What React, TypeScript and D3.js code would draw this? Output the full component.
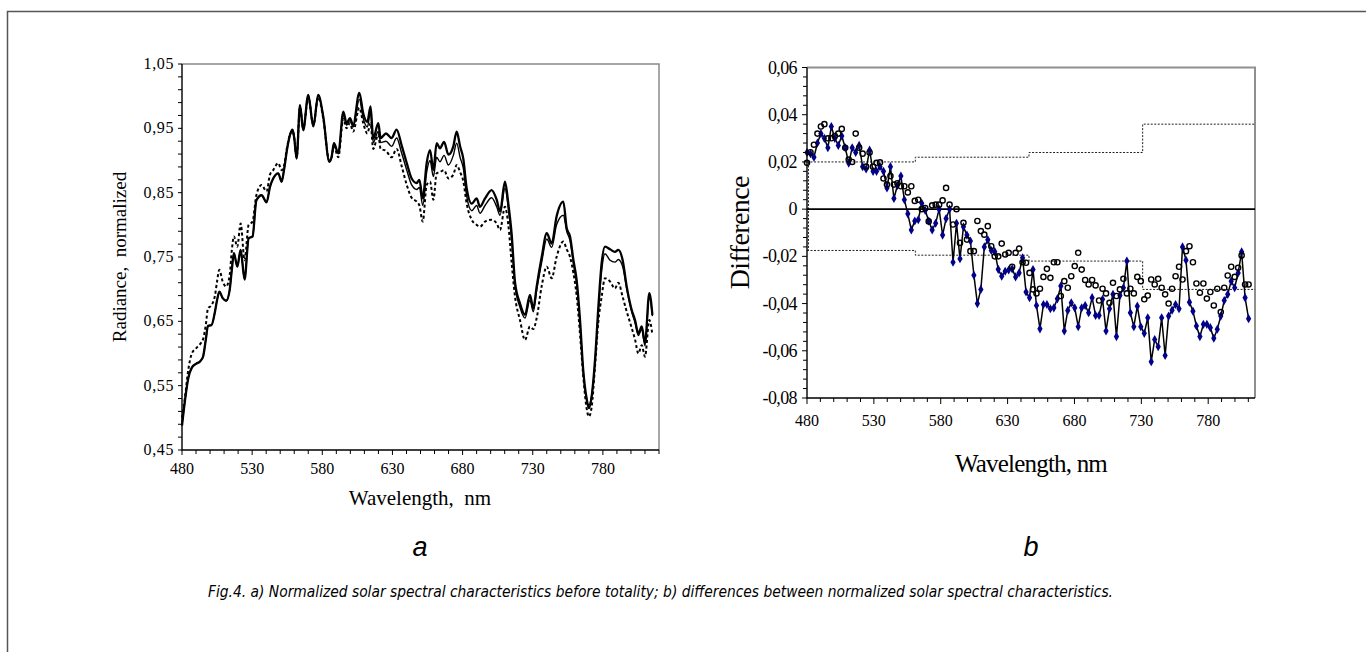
import { useEffect, useRef } from 'react'
import * as d3 from 'd3'

const WIDTH = 1366
const HEIGHT = 652
const SERIF = '"Liberation Serif", "Times New Roman", serif'
const SANS = '"DejaVu Sans", Verdana, sans-serif'

// panel a: normalized radiance, three spectra
const A_WL = [480, 482, 484.5, 487, 490, 493, 495, 497, 498.5, 501, 503.5, 505, 506.6, 509, 511.5, 514, 515.5, 517, 519.4, 521.8, 524.6, 527.5, 530.3, 533, 536.7, 540.3, 542.7, 545, 548.6, 551, 552.7, 555, 557, 558.8, 560, 561.7, 564.1, 566.4, 570, 573.6, 577.1, 580.7, 585, 586.6, 588.3, 591.4, 595, 597.3, 599.7, 602, 606.4, 609.2, 612.1, 614.4, 616.3, 619.9, 621.6, 625.4, 629.4, 633, 636.5, 640.2, 643.7, 647.3, 649.2, 651.6, 654.4, 656.8, 659.2, 661.5, 663.9, 666.8, 669.9, 673.4, 675.8, 678.2, 680.5, 682.9, 686.5, 690, 692.4, 696, 700.7, 704.3, 706.7, 710.2, 712.6, 715, 717.4, 720.9, 724.5, 728, 730.4, 732.8, 736.4, 740, 743.5, 747, 751.8, 754.2, 756.6, 759, 761.3, 763.7, 766, 768.4, 770, 772, 774.4, 776.8, 779.1, 781.5, 785.1, 788.6, 791, 794.1, 797, 800.5, 802.9, 805.3, 807.7, 810, 813.1, 815.3]
const A_THICK = [0.488, 0.525, 0.562, 0.578, 0.584, 0.588, 0.595, 0.622, 0.643, 0.644, 0.665, 0.683, 0.696, 0.686, 0.682, 0.699, 0.73, 0.756, 0.735, 0.761, 0.715, 0.779, 0.782, 0.838, 0.846, 0.835, 0.859, 0.872, 0.88, 0.867, 0.885, 0.919, 0.94, 0.948, 0.935, 0.903, 0.986, 0.947, 1.002, 0.953, 1.002, 0.968, 0.898, 0.905, 0.927, 0.911, 0.976, 0.958, 0.966, 0.955, 1.005, 0.973, 0.96, 0.984, 0.934, 0.958, 0.935, 0.942, 0.935, 0.948, 0.924, 0.896, 0.872, 0.865, 0.87, 0.841, 0.896, 0.916, 0.885, 0.927, 0.919, 0.929, 0.909, 0.922, 0.945, 0.922, 0.903, 0.857, 0.833, 0.841, 0.828, 0.841, 0.854, 0.839, 0.821, 0.867, 0.833, 0.785, 0.71, 0.678, 0.66, 0.691, 0.67, 0.704, 0.75, 0.787, 0.771, 0.813, 0.836, 0.795, 0.782, 0.745, 0.714, 0.652, 0.574, 0.53, 0.515, 0.533, 0.59, 0.673, 0.74, 0.766, 0.762, 0.758, 0.761, 0.745, 0.704, 0.668, 0.652, 0.631, 0.642, 0.616, 0.694, 0.66]
const A_THIN = [0.49, 0.525, 0.562, 0.578, 0.584, 0.588, 0.595, 0.622, 0.643, 0.644, 0.665, 0.683, 0.696, 0.686, 0.682, 0.699, 0.73, 0.756, 0.735, 0.761, 0.715, 0.779, 0.782, 0.838, 0.846, 0.835, 0.859, 0.872, 0.88, 0.867, 0.885, 0.919, 0.94, 0.948, 0.935, 0.903, 0.986, 0.947, 1.002, 0.953, 1.002, 0.968, 0.898, 0.905, 0.927, 0.911, 0.972, 0.955, 0.962, 0.952, 0.995, 0.965, 0.952, 0.975, 0.928, 0.945, 0.928, 0.93, 0.922, 0.935, 0.912, 0.885, 0.862, 0.855, 0.858, 0.83, 0.882, 0.9, 0.875, 0.905, 0.898, 0.908, 0.893, 0.908, 0.927, 0.905, 0.888, 0.845, 0.822, 0.83, 0.818, 0.83, 0.842, 0.828, 0.815, 0.857, 0.825, 0.775, 0.705, 0.672, 0.655, 0.683, 0.665, 0.698, 0.742, 0.778, 0.765, 0.8, 0.815, 0.79, 0.775, 0.74, 0.708, 0.648, 0.57, 0.528, 0.52, 0.535, 0.585, 0.665, 0.728, 0.755, 0.745, 0.742, 0.746, 0.735, 0.7, 0.665, 0.648, 0.628, 0.638, 0.612, 0.688, 0.658]
const A_DASH = [0.5, 0.53, 0.575, 0.6, 0.608, 0.615, 0.622, 0.645, 0.67, 0.675, 0.69, 0.712, 0.73, 0.712, 0.704, 0.722, 0.76, 0.782, 0.766, 0.802, 0.745, 0.8, 0.805, 0.846, 0.862, 0.852, 0.878, 0.885, 0.896, 0.885, 0.892, 0.922, 0.94, 0.946, 0.935, 0.905, 0.983, 0.95, 0.998, 0.955, 0.998, 0.965, 0.9, 0.905, 0.922, 0.905, 0.965, 0.95, 0.958, 0.945, 0.982, 0.958, 0.942, 0.958, 0.918, 0.94, 0.918, 0.915, 0.905, 0.918, 0.892, 0.862, 0.842, 0.836, 0.83, 0.805, 0.862, 0.867, 0.839, 0.88, 0.882, 0.885, 0.872, 0.878, 0.893, 0.882, 0.868, 0.833, 0.808, 0.8, 0.797, 0.805, 0.808, 0.802, 0.792, 0.828, 0.8, 0.74, 0.688, 0.652, 0.621, 0.642, 0.638, 0.655, 0.705, 0.735, 0.717, 0.75, 0.774, 0.762, 0.75, 0.725, 0.69, 0.63, 0.565, 0.515, 0.502, 0.517, 0.58, 0.65, 0.688, 0.717, 0.712, 0.701, 0.71, 0.688, 0.665, 0.64, 0.622, 0.6, 0.613, 0.595, 0.652, 0.629]
const A_X_LABELS = [480, 530, 580, 630, 680, 730, 780]
const A_Y_LABELS = [0.45, 0.55, 0.65, 0.75, 0.85, 0.95, 1.05]

// panel b: differences between spectra
const B_WL = [480, 482.6, 485.2, 487.8, 490.4, 493, 495.6, 498.2, 500.8, 503.4, 506, 508.6, 511.2, 513.8, 516.4, 519, 521.6, 524.2, 526.8, 529.4, 532, 534.6, 537.2, 539.8, 542.4, 545, 547.6, 550.2, 552.8, 555.4, 558, 560.6, 563.2, 565.8, 568.4, 571, 573.6, 576.2, 578.8, 581.4, 584, 586.6, 589.2, 591.8, 594.4, 597, 599.6, 602.2, 604.8, 607.4, 610, 612.6, 615.2, 617.8, 620.4, 623, 625.6, 628.2, 630.8, 633.4, 636, 638.6, 641.2, 643.8, 646.4, 649, 651.6, 654.2, 656.8, 659.4, 662, 664.6, 667.2, 669.8, 672.4, 675, 677.6, 680.2, 682.8, 685.4, 688, 690.6, 693.2, 695.8, 698.4, 701, 703.6, 706.2, 708.8, 711.4, 714, 716.6, 719.2, 721.8, 724.4, 727, 729.6, 732.2, 734.8, 737.4, 740, 742.6, 745.2, 747.8, 750.4, 753, 755.6, 758.2, 760.8, 763.4, 766, 768.6, 771.2, 773.8, 776.4, 779, 781.6, 784.2, 786.8, 789.4, 792, 794.6, 797.2, 799.8, 802.4, 805, 807.6, 810.2]
const B_DIAMONDS = [0.024, 0.0235, 0.022, 0.028, 0.032, 0.03, 0.026, 0.035, 0.03, 0.027, 0.031, 0.026, 0.0195, 0.026, 0.024, 0.027, 0.018, 0.017, 0.025, 0.016, 0.016, 0.018, 0.016, 0.009, 0.018, 0.0045, 0.01, 0.014, 0.004, -0.002, -0.0088, -0.005, -0.0045, 0.0025, -0.0005, -0.005, -0.0088, -0.006, 0, -0.011, -0.004, 0, -0.0225, -0.006, -0.021, -0.0075, -0.011, -0.0135, -0.028, -0.04, -0.034, -0.016, -0.013, -0.0175, -0.018, -0.0255, -0.0284, -0.0263, -0.0258, -0.0253, -0.0287, -0.027, -0.0206, -0.0351, -0.0375, -0.0256, -0.0408, -0.0507, -0.0404, -0.0404, -0.0422, -0.0418, -0.038, -0.0326, -0.0516, -0.0429, -0.0397, -0.0418, -0.0498, -0.0418, -0.0408, -0.0439, -0.0375, -0.045, -0.045, -0.0382, -0.0516, -0.0422, -0.0361, -0.054, -0.0366, -0.0333, -0.022, -0.0439, -0.0498, -0.0411, -0.0498, -0.0526, -0.046, -0.0646, -0.0552, -0.0583, -0.046, -0.062, -0.0453, -0.0428, -0.0404, -0.0422, -0.016, -0.0216, -0.0394, -0.0432, -0.0495, -0.054, -0.0488, -0.0488, -0.0502, -0.0547, -0.0509, -0.0453, -0.0387, -0.0361, -0.0305, -0.0333, -0.027, -0.0181, -0.0375, -0.0464]
const B_CIRCLES = [0.0196, 0.0241, 0.0273, 0.032, 0.035, 0.036, 0.03, 0.03, 0.031, 0.032, 0.034, 0.026, 0.021, 0.02, 0.032, 0.026, 0.0235, 0.018, 0.024, 0.018, 0.0196, 0.0198, 0.013, 0.0104, 0.014, 0.0104, 0.011, 0.0097, 0.0097, 0.0071, 0.0097, 0.0035, 0.004, 0, 0.0005, -0.0052, 0.0016, 0.0019, 0.0019, 0.0037, 0.009, 0.0019, -0.0065, 0, -0.0143, -0.0058, -0.0129, -0.0178, -0.0178, -0.005, -0.0093, -0.0108, -0.0072, -0.0157, -0.02, -0.02, -0.0146, -0.0192, -0.0185, -0.0244, -0.0185, -0.0167, -0.0225, -0.0227, -0.027, -0.034, -0.0357, -0.0337, -0.0287, -0.0253, -0.0291, -0.0225, -0.0225, -0.0368, -0.0305, -0.0333, -0.0284, -0.0241, -0.0185, -0.0256, -0.03, -0.0319, -0.03, -0.0323, -0.0387, -0.0337, -0.0357, -0.0397, -0.0312, -0.0368, -0.034, -0.0295, -0.0357, -0.0337, -0.0357, -0.0287, -0.0305, -0.0382, -0.0366, -0.0298, -0.0319, -0.0295, -0.0333, -0.0361, -0.04, -0.0337, -0.0284, -0.0244, -0.0298, -0.0178, -0.0157, -0.0225, -0.0315, -0.0354, -0.0315, -0.0379, -0.0351, -0.0408, -0.0337, -0.0436, -0.0333, -0.0281, -0.0244, -0.0287, -0.0248, -0.0196, -0.0319, -0.0319]
// dotted step limits
const STEP_BREAKS = [480, 561, 646, 731, 815]
const STEP_UPPER = [0.02, 0.022, 0.024, 0.036, 0.036]
const STEP_LOWER = [-0.0175, -0.0195, -0.022, -0.034, -0.034]
const B_X_LABELS = [480, 530, 580, 630, 680, 730, 780]
const B_Y_LABELS = [-0.08, -0.06, -0.04, -0.02, 0, 0.02, 0.04, 0.06]

const CAPTION = 'Fig.4. a) Normalized solar spectral characteristics before totality; b) differences between normalized solar spectral characteristics.'

const comma = (v: number, digits: number) => (v === 0 ? '0' : v.toFixed(digits).replace('.', ','))

export default function App() {
  const svgRef = useRef<SVGSVGElement>(null)

  useEffect(() => {
    if (!svgRef.current) return
    const svg = d3.select(svgRef.current)
    svg.selectAll('*').remove()

    // page frame
    svg.append('path')
      .attr('d', `M7.5,${HEIGHT} L7.5,11.5 L${WIDTH},11.5`)
      .attr('fill', 'none')
      .attr('stroke', '#555')
      .attr('stroke-width', 1.5)

    // ---------- panel a ----------
    const ax = d3.scaleLinear().domain([480, 820]).range([182, 659])
    const ay = d3.scaleLinear().domain([0.45, 1.05]).range([450, 64])
    const ga = svg.append('g')

    ga.append('path')
      .attr('d', `M${ax(480)},${ay(1.05)} L${ax(820)},${ay(1.05)} L${ax(820)},${ay(0.45)}`)
      .attr('fill', 'none').attr('stroke', '#8a8a8a').attr('stroke-width', 1.5)

    const aLine = (vals: number[]) => d3.line<number>()
      .x((_, i) => ax(A_WL[i]))
      .y(d => ay(d))
      .curve(d3.curveMonotoneX)(vals)

    ga.append('path').attr('d', aLine(A_DASH)!).attr('fill', 'none')
      .attr('stroke', '#000').attr('stroke-width', 2).attr('stroke-dasharray', '3,2.5')
    ga.append('path').attr('d', aLine(A_THIN)!).attr('fill', 'none')
      .attr('stroke', '#000').attr('stroke-width', 1.4)
    ga.append('path').attr('d', aLine(A_THICK)!).attr('fill', 'none')
      .attr('stroke', '#000').attr('stroke-width', 2.3)

    // axes
    ga.append('path')
      .attr('d', `M${ax(480)},${ay(1.05)} L${ax(480)},${ay(0.45)} L${ax(820)},${ay(0.45)}`)
      .attr('fill', 'none').attr('stroke', '#000').attr('stroke-width', 1.4)

    ga.selectAll('.ayt').data(d3.range(0, 31)).enter().append('line')
      .attr('x1', ax(480) - 4).attr('x2', ax(480))
      .attr('y1', i => ay(0.45 + i * 0.02)).attr('y2', i => ay(0.45 + i * 0.02))
      .attr('stroke', '#000').attr('stroke-width', 1)
    ga.selectAll('.axt').data(d3.range(480, 821, 10)).enter().append('line')
      .attr('x1', d => ax(d)).attr('x2', d => ax(d))
      .attr('y1', ay(0.45)).attr('y2', d => ay(0.45) + ((d - 480) % 50 === 0 ? 5 : 4))
      .attr('stroke', '#000').attr('stroke-width', 1)

    ga.selectAll('.ayl').data(A_Y_LABELS).enter().append('text')
      .attr('x', ax(480) - 8).attr('y', d => ay(d) + 5)
      .attr('text-anchor', 'end')
      .attr('font-family', SERIF).attr('font-size', 16).attr('letter-spacing', 0.6)
      .text(d => comma(d, 2))
    ga.selectAll('.axl').data(A_X_LABELS).enter().append('text')
      .attr('x', d => ax(d)).attr('y', ay(0.45) + 24)
      .attr('text-anchor', 'middle')
      .attr('font-family', SERIF).attr('font-size', 16)
      .text(d => String(d))

    ga.append('text')
      .attr('x', 420).attr('y', 505)
      .attr('text-anchor', 'middle')
      .attr('font-family', SERIF).attr('font-size', 21)
      .attr('xml:space', 'preserve')
      .text('Wavelength,  nm')
    ga.append('text')
      .attr('transform', `translate(126,${(ay(0.45) + ay(1.05)) / 2}) rotate(-90)`)
      .attr('text-anchor', 'middle')
      .attr('font-family', SERIF).attr('font-size', 19)
      .attr('xml:space', 'preserve')
      .text('Radiance,  normalized')

    // ---------- panel b ----------
    const bx = d3.scaleLinear().domain([480, 815]).range([807, 1255])
    const by = d3.scaleLinear().domain([-0.08, 0.06]).range([398, 67.5])
    const gb = svg.append('g')

    gb.append('path')
      .attr('d', `M${bx(480)},${by(0.06)} L${bx(815)},${by(0.06)} L${bx(815)},${by(-0.08)}`)
      .attr('fill', 'none').attr('stroke', '#8f8f8f').attr('stroke-width', 2)

    // dotted limits
    const step = d3.line<number>()
      .x((_, i) => bx(STEP_BREAKS[i]))
      .y(d => by(d))
      .curve(d3.curveStepAfter)
    const dotted = (sel: d3.Selection<SVGPathElement, unknown, null, undefined>) =>
      sel.attr('fill', 'none').attr('stroke', '#222').attr('stroke-width', 1).attr('stroke-dasharray', '2,1.5')
    gb.append('path').attr('d', step(STEP_UPPER)!).call(dotted)
    gb.append('path').attr('d', step(STEP_LOWER)!).call(dotted)
    gb.append('path')
      .attr('d', `M${bx(480) + 1.5},${by(STEP_UPPER[0])} L${bx(480) + 1.5},${by(STEP_LOWER[0])}`)
      .call(dotted)

    // zero line
    gb.append('line')
      .attr('x1', bx(480)).attr('x2', bx(815))
      .attr('y1', by(0)).attr('y2', by(0))
      .attr('stroke', '#000').attr('stroke-width', 1.6)

    const bLine = d3.line<number>()
      .x((_, i) => bx(B_WL[i]))
      .y(d => by(d))
    gb.append('path').attr('d', bLine(B_DIAMONDS)!).attr('fill', 'none')
      .attr('stroke', '#000').attr('stroke-width', 1.5)

    const diamond = d3.symbol().type(d3.symbolDiamond).size(24)
    gb.selectAll('.dm').data(B_DIAMONDS).enter().append('path')
      .attr('d', diamond()!)
      .attr('transform', (d, i) => `translate(${bx(B_WL[i])},${by(d)})`)
      .attr('fill', '#00008b')

    gb.selectAll('.ci').data(B_CIRCLES).enter().append('circle')
      .attr('cx', (_, i) => bx(B_WL[i])).attr('cy', d => by(d))
      .attr('r', 2.6)
      .attr('fill', 'none').attr('stroke', '#000').attr('stroke-width', 1.4)

    // axes
    gb.append('path')
      .attr('d', `M${bx(480)},${by(0.06)} L${bx(480)},${by(-0.08)} L${bx(815)},${by(-0.08)}`)
      .attr('fill', 'none').attr('stroke', '#000').attr('stroke-width', 1.4)
    gb.selectAll('.byt').data(d3.range(0, 36)).enter().append('line')
      .attr('x1', i => bx(480) - (i % 5 === 0 ? 5 : 4)).attr('x2', bx(480))
      .attr('y1', i => by(-0.08 + i * 0.004)).attr('y2', i => by(-0.08 + i * 0.004))
      .attr('stroke', '#000').attr('stroke-width', 1)
    gb.selectAll('.bxt').data(d3.range(480, 811, 10)).enter().append('line')
      .attr('x1', d => bx(d)).attr('x2', d => bx(d))
      .attr('y1', by(-0.08)).attr('y2', d => by(-0.08) + ((d - 480) % 50 === 0 ? 6 : 4))
      .attr('stroke', '#000').attr('stroke-width', 1)

    gb.selectAll('.byl').data(B_Y_LABELS).enter().append('text')
      .attr('x', bx(480) - 10).attr('y', d => by(d) + 6)
      .attr('text-anchor', 'end')
      .attr('font-family', SERIF).attr('font-size', 18).attr('letter-spacing', -0.6)
      .text(d => comma(d, 2))
    gb.selectAll('.bxl').data(B_X_LABELS).enter().append('text')
      .attr('x', d => bx(d)).attr('y', by(-0.08) + 28)
      .attr('text-anchor', 'middle')
      .attr('font-family', SERIF).attr('font-size', 16)
      .text(d => String(d))

    gb.append('text')
      .attr('x', 1031).attr('y', 472)
      .attr('text-anchor', 'middle')
      .attr('font-family', SERIF).attr('font-size', 25).attr('letter-spacing', -0.8)
      .text('Wavelength, nm')
    gb.append('text')
      .attr('transform', `translate(749,${(by(0.06) + by(-0.08)) / 2}) rotate(-90)`)
      .attr('text-anchor', 'middle')
      .attr('font-family', SERIF).attr('font-size', 28).attr('letter-spacing', -0.6)
      .text('Difference')

    // panel letters and caption
    svg.selectAll('.letter').data([['a', 420], ['b', 1031]]).enter().append('text')
      .attr('x', d => d[1] as number).attr('y', 556)
      .attr('text-anchor', 'middle')
      .attr('font-family', '"Liberation Sans", Arial, sans-serif')
      .attr('font-style', 'italic').attr('font-size', 27)
      .text(d => d[0] as string)

    svg.append('text')
      .attr('x', 208).attr('y', 597)
      .attr('font-family', SANS).attr('font-style', 'italic').attr('font-size', 16)
      .attr('textLength', 905).attr('lengthAdjust', 'spacingAndGlyphs')
      .text(CAPTION)
  }, [])

  return (
    <svg
      ref={svgRef}
      width={WIDTH}
      height={HEIGHT}
      style={{ position: 'absolute', left: 0, top: 0, background: '#fff' }}
    />
  )
}
